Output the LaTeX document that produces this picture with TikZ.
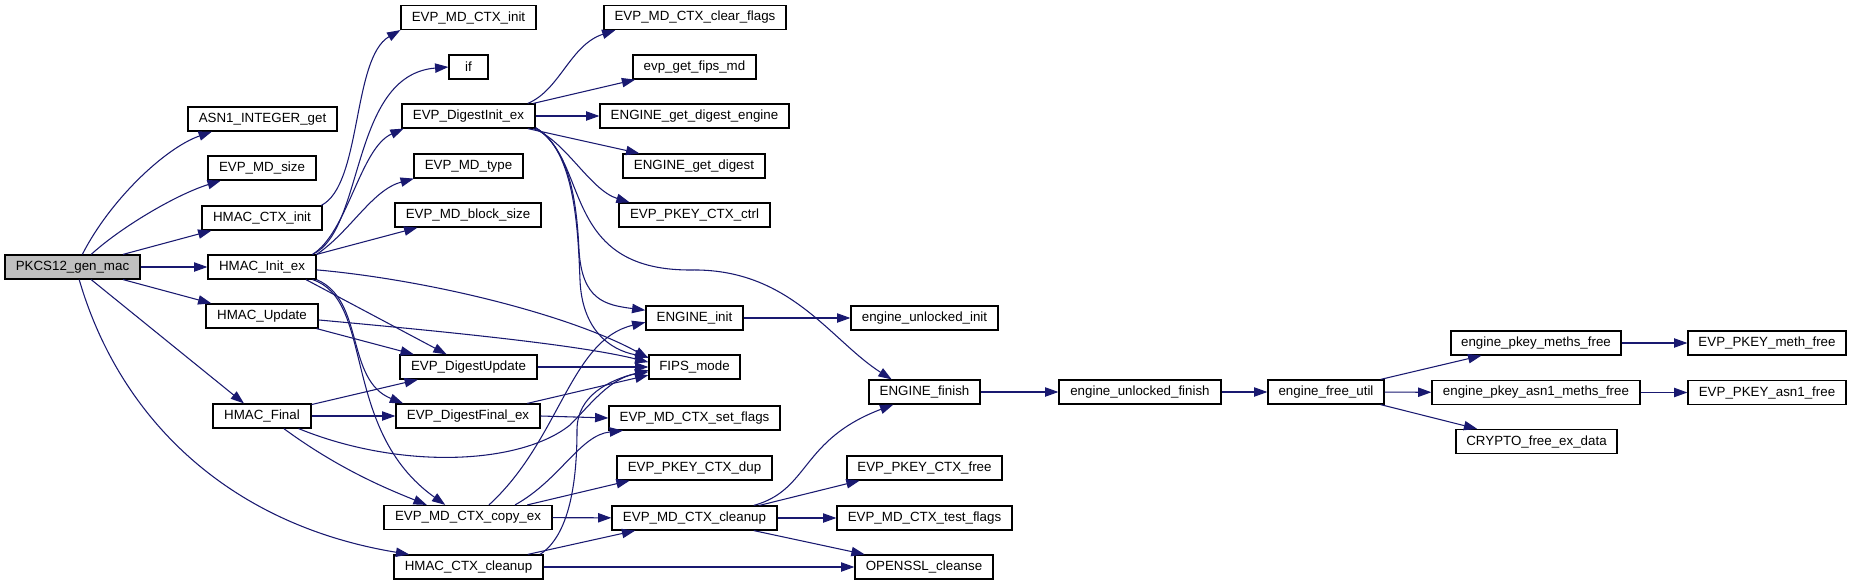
\documentclass[tikz,border=0pt]{standalone}
\usepackage{fontspec}
\setmainfont{Liberation Sans}
\usetikzlibrary{arrows.meta}
\definecolor{edgeblue}{HTML}{191970}
\definecolor{rootgray}{HTML}{BFBFBF}

\begin{document}
\begin{tikzpicture}[x=0.75pt,y=-0.75pt,
  fn/.style={draw=black,fill=white,line width=0.9pt,inner sep=0pt,minimum height=18pt,minimum width=#1*0.75pt,font=\fontsize{10}{12}\selectfont},
  fn/.default=100,
  call/.style={draw=edgeblue,line width=0.8pt,-{Triangle[length=10pt,width=7pt]}}]
\useasboundingbox (0,0) rectangle (1852,585);

% first column
\node[fn=135,fill=rootgray] (pkcs) at (72.5,267) {PKCS12\_gen\_mac};
% second column
\node[fn=149] (asn) at (262.5,119) {ASN1\_INTEGER\_get};
\node[fn=108] (mdsize) at (262,168) {EVP\_MD\_size};
\node[fn=120] (ctxinit) at (262,218) {HMAC\_CTX\_init};
\node[fn=108] (hinit) at (262,267) {HMAC\_Init\_ex};
\node[fn=112] (hupd) at (262,316) {HMAC\_Update};
\node[fn=98] (hfin) at (262,416) {HMAC\_Final};
% third column
\node[fn=135] (mdinit) at (468.5,17.5) {EVP\_MD\_CTX\_init};
\node[fn=39] (iff) at (468.5,67) {if};
\node[fn=133] (dinit) at (468.5,116) {EVP\_DigestInit\_ex};
\node[fn=109] (mdtype) at (468.5,166) {EVP\_MD\_type};
\node[fn=146] (mdblock) at (468,215) {EVP\_MD\_block\_size};
\node[fn=137] (dupd) at (468.5,367) {EVP\_DigestUpdate};
\node[fn=144] (dfin) at (468,416) {EVP\_DigestFinal\_ex};
\node[fn=168] (copyex) at (468,517.5) {EVP\_MD\_CTX\_copy\_ex};
\node[fn=149] (hclean) at (468.5,567) {HMAC\_CTX\_cleanup};
% fourth column
\node[fn=182] (clrflags) at (695,17.5) {EVP\_MD\_CTX\_clear\_flags};
\node[fn=123] (fipsmd) at (694.5,67) {evp\_get\_fips\_md};
\node[fn=189] (gde) at (694.5,116) {ENGINE\_get\_digest\_engine};
\node[fn=142] (gd) at (694,166) {ENGINE\_get\_digest};
\node[fn=151] (pkctrl) at (694.5,215) {EVP\_PKEY\_CTX\_ctrl};
\node[fn=97] (einit) at (694.5,318) {ENGINE\_init};
\node[fn=91] (fips) at (694.5,367) {FIPS\_mode};
\node[fn=171] (setflags) at (694.5,418) {EVP\_MD\_CTX\_set\_flags};
\node[fn=155] (pkdup) at (694.5,468) {EVP\_PKEY\_CTX\_dup};
\node[fn=165] (mdclean) at (694.5,518) {EVP\_MD\_CTX\_cleanup};
% fifth column
\node[fn=147] (euinit) at (924.5,318) {engine\_unlocked\_init};
\node[fn=111] (efinish) at (924.5,392) {ENGINE\_finish};
\node[fn=155] (pkfree) at (924.5,468) {EVP\_PKEY\_CTX\_free};
\node[fn=175] (testflags) at (924.5,518) {EVP\_MD\_CTX\_test\_flags};
\node[fn=138] (cleanse) at (924,567) {OPENSSL\_cleanse};
% engine chain
\node[fn=162] (eufinish) at (1140,392) {engine\_unlocked\_finish};
\node[fn=116] (efree) at (1326,392) {engine\_free\_util};
\node[fn=170] (pmeths) at (1536,343) {engine\_pkey\_meths\_free};
\node[fn=208] (pasn) at (1536,392.5) {engine\_pkey\_asn1\_meths\_free};
\node[fn=161] (cfree) at (1536.5,441.5) {CRYPTO\_free\_ex\_data};
\node[fn=158] (pmfree) at (1767,343) {EVP\_PKEY\_meth\_free};
\node[fn=158] (pafree) at (1767,392.5) {EVP\_PKEY\_asn1\_free};

% PKCS12_gen_mac
\draw[call] (pkcs.52) .. controls (110,200) and (165,148) .. (asn.194);
\draw[call] (pkcs.34) .. controls (120,228) and (175,195) .. (mdsize.197);
\draw[call] (pkcs.14) -- (ctxinit.194);
\draw[call] (pkcs) -- (hinit);
\draw[call] (pkcs.-14) -- (hupd.166);
\draw[call] (pkcs.-34) -- (hfin.145);
\draw[call] (pkcs.-62) .. controls (120,420) and (230,525) .. (hclean.168);
% HMAC_CTX_init
\draw[call] (ctxinit.12) .. controls (362,185) and (352,58) .. (mdinit.south west);
% HMAC_Init_ex
\draw[call] (hinit.14) .. controls (365,230) and (350,75) .. (iff.west);
\draw[call] (hinit.14) .. controls (348,232) and (360,148) .. (dinit.191);
\draw[call] (hinit.13) .. controls (350,232) and (372,190) .. (mdtype.193);
\draw[call] (hinit.north east) -- (mdblock.194);
\draw[call] (hinit.-3) .. controls (430,280) and (570,315) .. (fips.169);
\draw[call] (hinit.-16) -- (dupd.150);
\draw[call] (hinit.south east) .. controls (365,300) and (345,380) .. (dfin.169);
\draw[call] (hinit.-14) .. controls (375,300) and (340,430) .. (copyex.151);
% HMAC_Update
\draw[call] (hupd.-4) .. controls (450,332) and (580,345) .. (fips.174);
\draw[call] (hupd.-13) -- (dupd.167);
% HMAC_Final
\draw[call] (hfin.13) -- (dupd.194);
\draw[call] (hfin) -- (dfin);
\draw[call] (hfin.-19) .. controls (400,470) and (520,465) .. (570,425) .. controls (590,405) and (610,378) .. (fips.186);
\draw[call] (hfin.-30) .. controls (340,470) and (390,490) .. (copyex.163);
% HMAC_CTX_cleanup
\draw[call] (hclean) -- (cleanse);
\draw[call] (hclean.12) -- (mdclean.192);
\draw[call] (hclean.10) .. controls (570,535) and (577,480) .. (577,430) .. controls (577,395) and (610,380) .. (fips.184);
% EVP_DigestInit_ex
\draw[call] (dinit.12) .. controls (560,90) and (570,45) .. (clrflags.189);
\draw[call] (dinit.11) -- (fipsmd.192);
\draw[call] (dinit) -- (gde);
\draw[call] (dinit.-12) -- (gd.167);
\draw[call] (dinit.-11) .. controls (565,140) and (590,190) .. (pkctrl.169);
\draw[call] (dinit.-10) .. controls (572,150) and (577,210) .. (579,250) .. controls (582,300) and (605,305) .. (einit.171);
\draw[call] (dinit.-10) .. controls (575,150) and (578,230) .. (580,280) .. controls (582,330) and (610,350) .. (fips.168);
\draw[call] (dinit.-10) .. controls (590,160) and (560,270) .. (690,270) .. controls (790,268) and (830,340) .. (efinish.159);
% EVP_DigestUpdate, EVP_DigestFinal_ex
\draw[call] (dupd) -- (fips);
\draw[call] (dfin.east) -- (setflags.west);
\draw[call] (dfin.12) -- (fips.190);
% EVP_MD_CTX_copy_ex
\draw[call] (copyex) -- (mdclean);
\draw[call] (copyex.12) -- (pkdup.191);
\draw[call] (copyex.15) .. controls (560,480) and (580,435) .. (setflags.190);
\draw[call] (copyex.31) .. controls (560,440) and (570,340) .. (einit.185);
% EVP_MD_CTX_cleanup
\draw[call] (mdclean.12) .. controls (810,490) and (800,440) .. (efinish.202);
\draw[call] (mdclean.11) -- (pkfree.191);
\draw[call] (mdclean) -- (testflags);
\draw[call] (mdclean.-12) -- (cleanse.168);
% engine calls
\draw[call] (einit) -- (euinit);
\draw[call] (efinish) -- (eufinish);
\draw[call] (eufinish) -- (efree);
\draw[call] (efree.13) -- (pmeths.193);
\draw[call] (efree) -- (pasn);
\draw[call] (efree.-13) -- (cfree.168);
\draw[call] (pmeths) -- (pmfree);
\draw[call] (pasn) -- (pafree);
\end{tikzpicture}
\end{document}
